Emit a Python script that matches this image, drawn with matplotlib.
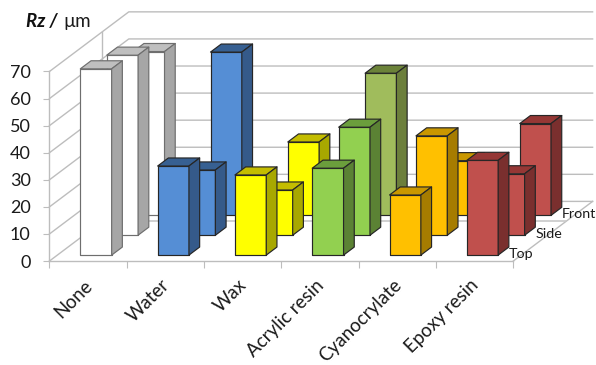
import matplotlib
matplotlib.use("Agg")
import matplotlib.pyplot as plt
from matplotlib.patches import Polygon
from matplotlib.transforms import ScaledTranslation

plt.rcParams['font.family'] = ['Lato', 'DejaVu Sans']

categories = ['None', 'Water', 'Wax', 'Acrylic resin', 'Cyanocrylate', 'Epoxy resin']
depth_labels = ['Top', 'Side', 'Front']
y_ticks = [0, 10, 20, 30, 40, 50, 60, 70]

top_values = [68.8, 32.9, 29.6, 32.1, 22.2, 35.0]
side_values = [66.5, 24.1, 16.7, 39.9, 36.7, 22.7]
front_values = [60.5, 60.3, 27.1, 52.5, 20.2, 33.9]

# (front face, top face, side face) per category
white_cols = ('#FFFFFF', '#BFBFBF', '#A6A6A6')
blue_cols = ('#558ED5', '#376092', '#355A8A')
yellow_cols = ('#FFFF00', '#C4BD00', '#A8A800')
green_cols = ('#92D050', '#6B9E3C', '#5B8234')
olive_cols = ('#A0BC5C', '#6B8239', '#6C7F3C')
orange_cols = ('#FFC000', '#C99700', '#A67C00')
red_cols = ('#C0504D', '#953735', '#7A2F2E')
row_colors = [
    [white_cols, blue_cols, yellow_cols, green_cols, orange_cols, red_cols],
    [white_cols, blue_cols, yellow_cols, green_cols, orange_cols, red_cols],
    [white_cols, blue_cols, yellow_cols, olive_cols, orange_cols, red_cols],
]

# oblique projection: one depth row shifts by this much in x and y units
shift_x = 0.342
shift_y = 7.34
bar_w = 0.405
grid_col = '#BDBDBD'


def project(x, y, d):
    return (x + d * shift_x, y + d * shift_y)


def draw_bar(ax, i, row, value, cols):
    x0, x1 = i + 0.5 - bar_w / 2, i + 0.5 + bar_w / 2
    d0, d1 = row + 0.5 - bar_w / 2, row + 0.5 + bar_w / 2
    faces = [
        ([(x0, 0, d0), (x1, 0, d0), (x1, value, d0), (x0, value, d0)], cols[0]),
        ([(x0, value, d0), (x1, value, d0), (x1, value, d1), (x0, value, d1)], cols[1]),
        ([(x1, 0, d0), (x1, 0, d1), (x1, value, d1), (x1, value, d0)], cols[2]),
    ]
    edge = '#6E6E6E' if cols is white_cols else '#262626'
    for corners, col in faces:
        pts = [project(*c) for c in corners]
        ax.add_patch(Polygon(pts, closed=True, facecolor=col, edgecolor=edge,
                             lw=0.85, joinstyle='round', zorder=3))


fig = plt.figure(figsize=(5.96, 3.65), dpi=100)
ax = fig.add_axes([0, 0, 1, 1])
ax.set_xlim(-0.640, 7.07)
ax.set_ylim(-38.4, 96.4)
ax.patch.set_alpha(0)

# walls and floor
n_cat = len(categories)
n_rows = len(depth_labels)
for v in y_ticks:
    a = project(0, v, 0)
    b = project(0, v, n_rows)
    c = project(n_cat, v, n_rows)
    ax.plot([a[0], b[0], c[0]], [a[1], b[1], c[1]], color=grid_col, lw=1.0, zorder=1)

# floor right edge and the line two rows back
a = project(n_cat, 0, 0)
b = project(n_cat, 0, n_rows)
ax.plot([a[0], b[0]], [a[1], b[1]], color=grid_col, lw=1.0, zorder=1)
a = project(0, 0, 2)
b = project(n_cat, 0, 2)
ax.plot([a[0], b[0]], [a[1], b[1]], color='#C8C8C8', lw=1.2, zorder=1)
a = project(0, 0, 2)
b = project(0, y_ticks[-1], 2)
ax.plot([a[0], b[0]], [a[1], b[1]], color=grid_col, lw=1.0, zorder=1)

all_values = [top_values, side_values, front_values]
for row in range(n_rows - 1, -1, -1):
    for i in range(n_cat):
        draw_bar(ax, i, row, all_values[row][i], row_colors[row][i])

# axes
for name in ['top', 'right']:
    ax.spines[name].set_visible(False)
ax.spines['left'].set_position(('data', 0))
ax.spines['left'].set_bounds(0, y_ticks[-1])
ax.spines['bottom'].set_position(('data', 0))
ax.spines['bottom'].set_bounds(0, n_cat)
for name in ['left', 'bottom']:
    ax.spines[name].set_color(grid_col)
    ax.spines[name].set_linewidth(1.0)

ax.set_yticks(y_ticks)
ax.set_yticklabels([str(v) for v in y_ticks], fontsize=13, color='#1a1a1a')
ax.tick_params(axis='y', length=4.5, width=0.8, color=grid_col, pad=9)
ax.set_xticks(range(n_cat + 1))
ax.set_xticklabels([])
ax.tick_params(axis='x', which='major', length=5, width=0.8, color=grid_col)
ax.set_xticks([i + 0.5 for i in range(n_cat)], minor=True)
ax.set_xticklabels(categories, minor=True, rotation=45, ha='right', va='center',
                   rotation_mode='anchor', fontsize=13.5, color='#1a1a1a')
ax.tick_params(axis='x', which='minor', length=0, pad=15.5)
nudge = ScaledTranslation(1.5 / 100, 0, fig.dpi_scale_trans)
for lab in ax.get_xticklabels(minor=True):
    lab.set_transform(lab.get_transform() + nudge)

# depth axis labels
for row, lab in enumerate(depth_labels):
    px, py = project(n_cat, 0, row + 0.5)
    ax.text(px - 0.225, py - 0.9, lab, fontsize=10.3, color='#1a1a1a', ha='left', va='center', zorder=4)

# value axis title
fig.text(26.5 / 596, 1 - 27 / 365, 'Rz /', fontsize=13.5, fontweight='bold', style='italic', color='#111111')
fig.text(63 / 596, 1 - 27 / 365, '\u00b5m', fontsize=13.5, color='#1a1a1a')

fig.savefig('out.png', dpi=100)
